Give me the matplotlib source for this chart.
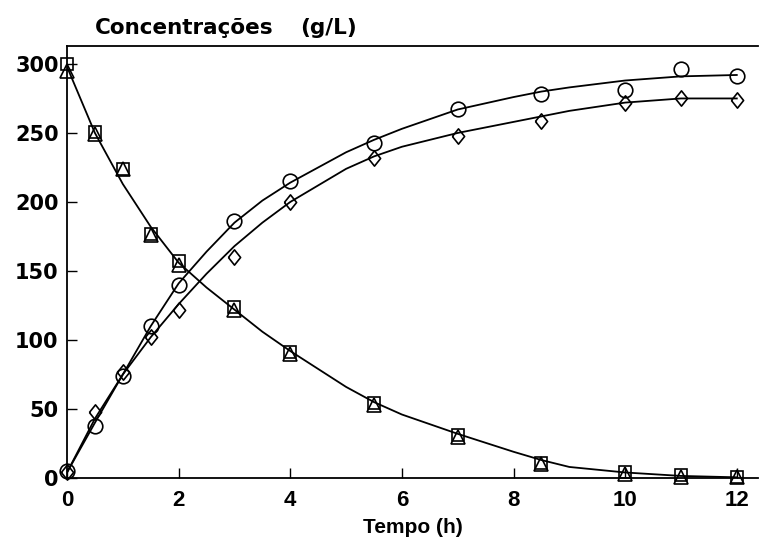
import matplotlib
matplotlib.use('Agg')
import matplotlib.pyplot as plt

# measured points
t_pts = [0, 0.5, 1, 1.5, 2, 3, 4, 5.5, 7, 8.5, 10, 11, 12]
substrate_sq = [300, 251, 224, 177, 157, 124, 91, 54, 31, 11, 4, 2, 1]
substrate_tri = [295, 249, 224, 176, 154, 122, 90, 53, 30, 10, 3, 1, 0.5]
product_circ = [5, 38, 74, 110, 140, 186, 215, 243, 267, 278, 281, 296, 291]
product_diam = [4, 48, 77, 102, 122, 160, 200, 232, 248, 259, 272, 275, 274]

# fitted curves
t_fit = [0, 0.5, 1, 1.5, 2, 2.5, 3, 3.5, 4, 5, 5.5, 6, 7, 8, 8.5, 9, 10, 11, 12]
substrate_fit = [298, 250, 213, 182, 156, 138, 122, 106, 92, 66, 55, 46, 32, 19, 13, 8, 4, 1.5, 0.5]
circ_fit = [4, 40, 75, 110, 141, 164, 185, 201, 214, 236, 245, 253, 267, 276, 280, 283, 288, 291, 292]
diam_fit = [4, 43, 75, 102, 126, 148, 168, 185, 200, 224, 233, 240, 250, 258, 262, 266, 272, 275, 275]

xticks = [0, 2, 4, 6, 8, 10, 12]
yticks = [0, 50, 100, 150, 200, 250, 300]

plt.rcParams['font.family'] = ['Liberation Sans', 'DejaVu Sans']
plt.rcParams['font.weight'] = 'bold'

W, H = 759, 548
fig = plt.figure(figsize=(W / 100, H / 100), dpi=100)
ax = fig.add_axes([67 / W, (H - 478) / H, (758 - 67) / W, (478 - 46) / H])

lw = 1.3
ax.plot(t_fit, substrate_fit, color='black', lw=lw)
ax.plot(t_fit, circ_fit, color='black', lw=lw)
ax.plot(t_fit, diam_fit, color='black', lw=lw)

# wider diamond than matplotlib's thin one
diamond = [(-0.8, 0), (0, 1), (0.8, 0), (0, -1), (-0.8, 0)]

mk = dict(linestyle='none', markerfacecolor='none', markeredgecolor='black',
          markeredgewidth=1.2, clip_on=False, zorder=3)
ax.plot(t_pts, substrate_sq, marker='s', markersize=9, **mk)
ax.plot(t_pts, substrate_tri, marker='^', markersize=10, **mk)
ax.plot(t_pts, product_circ, marker='o', markersize=10.5, **mk)
ax.plot(t_pts, product_diam, marker=diamond, markersize=11, **mk)

ax.set_xlim(0, 12.38)
ax.set_ylim(0, 313)
ax.set_xticks(xticks)
ax.set_yticks(yticks)
ax.tick_params(direction='in', length=7, width=1)
ax.tick_params(axis='x', labelsize=16, pad=9)
ax.tick_params(axis='y', labelsize=15, pad=6)
for lab in ax.get_xticklabels():
    lab.set_fontweight('bold')
for lab in ax.get_yticklabels():
    lab.set_fontweight('bold')
    lab.set_family('DejaVu Sans')
ax.spines['right'].set_visible(False)
for s in ['left', 'bottom', 'top']:
    ax.spines[s].set_linewidth(1.3)

ax.set_xlabel('Tempo (h)', fontsize=15, fontweight='bold', labelpad=5)
fig.text(95 / W, 1 - 28 / H, 'Concentrações', fontsize=15.5, fontweight='bold',
         family='DejaVu Sans', va='center', ha='left')
fig.text(300 / W, 1 - 28 / H, '(g/L)', fontsize=15.5, fontweight='bold',
         family='DejaVu Sans', va='center', ha='left')

fig.savefig('out.png', dpi=100)
